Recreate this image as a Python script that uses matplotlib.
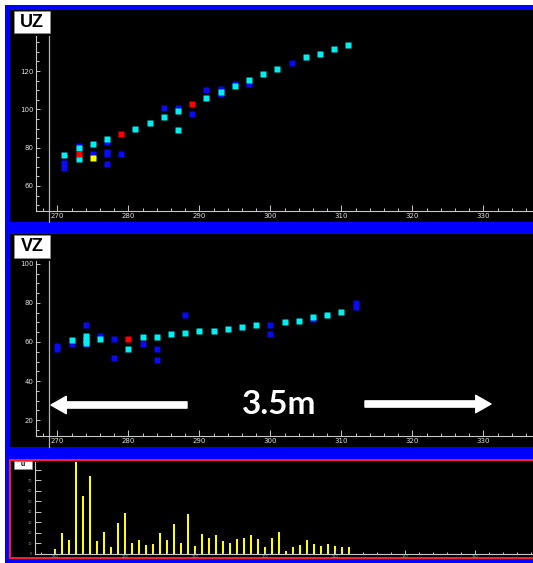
import numpy as np
import matplotlib.pyplot as plt
from matplotlib.patches import Rectangle
from matplotlib.ticker import MultipleLocator

# UZ 面板数据 (x, y)
uz_cyan_x = [271, 273, 273, 275, 277, 281, 283, 285, 287, 287, 291, 293, 295, 297, 299, 301, 305, 307, 309, 311]
uz_cyan_y = [76.2, 79.7, 74.1, 81.8, 84.4, 89.9, 92.9, 96.0, 99.3, 89.2, 106.0, 109.1, 112.2, 115.4, 118.5, 120.9, 127.2, 129.1, 131.5, 133.5]
uz_blue_x = [271, 271, 273, 275, 277, 277, 277, 277, 279, 285, 287, 289, 291, 293, 293, 295, 297, 303]
uz_blue_y = [71.8, 69.2, 81.0, 76.7, 83.0, 77.9, 76.5, 71.3, 76.9, 100.6, 100.9, 97.4, 110.3, 110.5, 107.9, 113.3, 113.1, 124.1]
uz_red_x = [273, 279, 289]
uz_red_y = [76.7, 87.3, 102.8]
uz_yellow_x = [275]
uz_yellow_y = [74.8]

# VZ 面板数据
vz_cyan_x = [272, 274, 274, 274, 276, 280, 282, 284, 286, 288, 290, 292, 294, 296, 298, 302, 304, 306, 308, 310]
vz_cyan_y = [60.9, 63.1, 61.0, 59.3, 61.5, 56.6, 62.5, 62.5, 63.9, 64.4, 65.6, 65.6, 66.8, 67.5, 68.7, 70.0, 70.6, 72.6, 73.8, 75.5]
vz_blue_x = [270, 270, 272, 274, 274, 276, 278, 278, 282, 284, 284, 288, 300, 300, 306, 312, 312]
vz_blue_y = [58.1, 56.4, 59.0, 68.7, 59.0, 62.9, 61.5, 51.7, 59.0, 56.6, 51.0, 73.6, 68.7, 63.9, 71.6, 80.0, 77.9]
vz_red_x = [280]
vz_red_y = [61.5]

# u 直方图
u_pos = list(range(270, 313))
u_cnt = [4, 20, 13, 88, 55, 74, 12, 21, 6, 29, 39, 10.5, 13, 8, 9.5, 20, 13, 28, 10.5, 38,
         7, 18.5, 15, 17.5, 12, 10.5, 14, 15, 17.5, 14, 6, 15, 21, 2.5, 6, 8, 13, 9.5, 7, 9.5,
         7, 6, 6]

W, H = 533, 563
fig = plt.figure(figsize=(W / 100, H / 100), dpi=100, facecolor='white')


def box(x0, y0, x1, y1, **kw):
    # 以像素坐标(左上为原点)画矩形
    r = Rectangle((x0 / W, 1 - y1 / H), (x1 - x0) / W, (y1 - y0) / H,
                  transform=fig.transFigure, **kw)
    fig.patches.append(r)
    return r


def axpos(l, t, r, b):
    return [l / W, 1 - b / H, (r - l) / W, (b - t) / H]


# 蓝色边框与黑色底板
box(5, 5, 533, 563, facecolor='#0000ff', edgecolor='none', zorder=-10)
box(10, 10, 533, 222, facecolor='black', edgecolor='none', zorder=-9)
box(10, 234, 533, 447, facecolor='black', edgecolor='none', zorder=-9)
box(10, 460, 534, 558, facecolor='black', edgecolor='#ff2020', linewidth=1.4, zorder=-9)

axis_c = '#c8c8c8'
lab_c = '#e0e0e0'


def style(ax, lsize=5, lcol=lab_c):
    ax.set_facecolor('none')
    for s in ['top', 'right']:
        ax.spines[s].set_visible(False)
    for s in ['left', 'bottom']:
        ax.spines[s].set_color(axis_c)
        ax.spines[s].set_linewidth(0.8)
    ax.tick_params(which='both', direction='in', colors=axis_c, labelcolor=lcol, labelsize=lsize, pad=2)
    ax.tick_params(axis='x', which='major', length=4.5, width=0.7)
    ax.tick_params(axis='x', which='minor', length=2.5, width=0.7)
    ax.tick_params(axis='y', which='major', length=3, width=0.7)
    ax.tick_params(axis='y', which='minor', length=2, width=0.7)


ms = 4.4

# 第一幅: UZ
ax1 = fig.add_axes(axpos(36, 36, 533, 210.7))
style(ax1)
ax1.set_xlim(267.0, 337.0)
ax1.set_ylim(47.1, 138.3)
ax1.xaxis.set_major_locator(MultipleLocator(10))
ax1.xaxis.set_minor_locator(MultipleLocator(2))
ax1.yaxis.set_minor_locator(MultipleLocator(5))
ax1.set_yticks([60, 80, 100, 120])
ax1.axvline(268.9, ymin=-0.065, ymax=1, color='#b0b0b0', lw=0.9, clip_on=False)
ax1.plot(uz_blue_x, uz_blue_y, 's', color='#0a0af5', ms=ms, mec='none')
ax1.plot(uz_cyan_x, uz_cyan_y, 's', color='#00f0f0', ms=ms, mec='none')
ax1.plot(uz_red_x, uz_red_y, 's', color='#ff0000', ms=ms, mec='none')
ax1.plot(uz_yellow_x, uz_yellow_y, 's', color='#ffff00', ms=ms, mec='none')

# 第二幅: VZ
ax2 = fig.add_axes(axpos(36, 261, 533, 435.7))
style(ax2)
ax2.set_xlim(267.0, 337.0)
ax2.set_ylim(12.1, 101.4)
ax2.xaxis.set_major_locator(MultipleLocator(10))
ax2.xaxis.set_minor_locator(MultipleLocator(2))
ax2.yaxis.set_minor_locator(MultipleLocator(5))
ax2.set_yticks([20, 40, 60, 80, 100])
ax2.axvline(268.9, ymin=-0.064, ymax=1, color='#b0b0b0', lw=0.9, clip_on=False)
ax2.plot(vz_blue_x, vz_blue_y, 's', color='#0a0af5', ms=ms, mec='none')
ax2.plot(vz_cyan_x, vz_cyan_y, 's', color='#00f0f0', ms=ms, mec='none')
ax2.plot(vz_red_x, vz_red_y, 's', color='#ff0000', ms=ms, mec='none')

# 3.5m 标注与箭头
aprops = dict(arrowstyle='simple,head_width=1.25,head_length=1.1,tail_width=0.45',
              color='white', mutation_scale=10, shrinkA=0, shrinkB=0)
ax2.annotate('', xy=(51, H - 405), xytext=(187, H - 405), xycoords='figure pixels',
             textcoords='figure pixels', arrowprops=aprops)
ax2.annotate('', xy=(491, H - 404), xytext=(365, H - 404), xycoords='figure pixels',
             textcoords='figure pixels', arrowprops=aprops)
fig.text(279 / W, 1 - 405 / H, '3.5m', color='white', fontsize=24, fontweight='bold',
         family='Lato', ha='center', va='center')

# 第三幅: u 直方图
ax3 = fig.add_axes(axpos(35, 461.7, 533, 554.3))
style(ax3, lsize=2.5, lcol='#9a9a9a')
ax3.set_xlim(267.1, 338.3)
ax3.set_ylim(-0.6, 87.5)
ax3.xaxis.set_major_locator(MultipleLocator(10))
ax3.xaxis.set_minor_locator(MultipleLocator(2))
ax3.set_yticks(range(0, 90, 10))
ax3.set_yticklabels([str(v) for v in range(0, 80, 10)] + [''])
ax3.tick_params(axis='y', which='major', length=4)
ax3.tick_params(axis='x', which='major', length=3, pad=0.5)
ax3.tick_params(axis='x', which='minor', length=1.5)
ax3.bar(u_pos, u_cnt, width=0.32, color='#ffff00', edgecolor='none')

# 面板标题框
box(14, 11, 50, 33, facecolor='white', edgecolor='#909090', linewidth=0.5, zorder=5)
fig.text(32 / W, 1 - 22.5 / H, 'UZ', fontsize=13, fontweight='bold', family='Liberation Sans',
         ha='center', va='center', zorder=6)
box(14, 235, 50, 258, facecolor='white', edgecolor='#909090', linewidth=0.5, zorder=5)
fig.text(32 / W, 1 - 246.5 / H, 'VZ', fontsize=13, fontweight='bold', family='Liberation Sans',
         ha='center', va='center', zorder=6)
box(14, 461, 32, 469, facecolor='white', edgecolor='#909090', linewidth=0.5, zorder=5)
fig.text(23 / W, 1 - 464 / H, 'u', fontsize=5, fontweight='bold', family='Liberation Sans',
         ha='center', va='center', zorder=6)

plt.savefig('out.png', dpi=100, facecolor='white')
